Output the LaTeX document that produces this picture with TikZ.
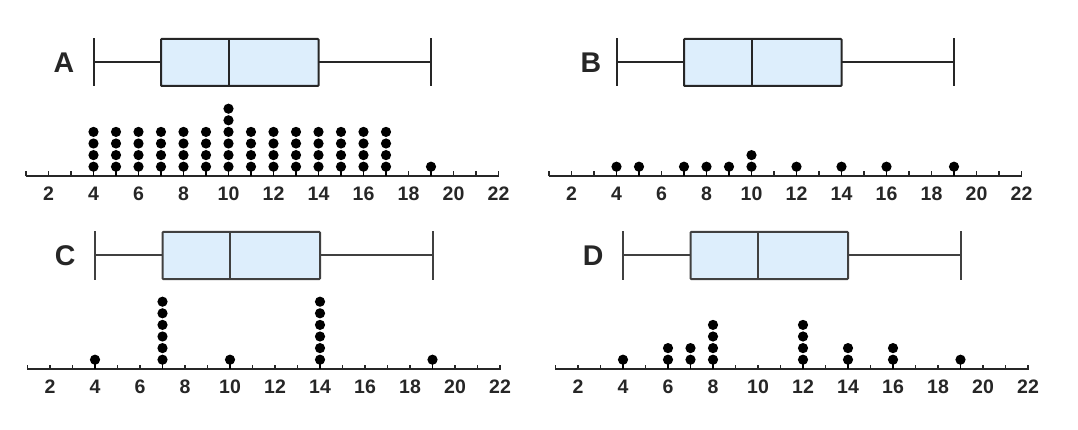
\documentclass[tikz,border=0pt]{standalone}
\usepackage{fontspec}
\setmainfont{Liberation Sans}
\definecolor{ink}{HTML}{262626}
\definecolor{inkb}{HTML}{404040}
\definecolor{boxfill}{HTML}{DDEEFC}
\tikzset{
  axisline/.style={line width=2pt, draw=ink},
  tickline/.style={line width=1.7pt, draw=ink},
  boxline/.style={line width=2pt},
  num/.style={anchor=base, inner sep=0pt, text=ink, font=\bfseries\fontsize{19.5}{19.5}\selectfont},
  letter/.style={anchor=base, inner sep=0pt, text=ink, font=\bfseries\fontsize{28.5}{28.5}\selectfont},
  dotstem/.style={line width=1.7pt, draw=black},
}
% #1 v0 (px), #2 axis y (px), #3 label, #4 label x (value units), #5 dot list value/count, #6 box line colour
\newcommand\mypanel[6]{%
  \begin{scope}[xshift=#1pt, yshift=-#2pt, x=22.5pt, y=-1pt]
    % box plot
    \draw[boxline, draw=#6] (4,-137.5) -- (4,-89.5);
    \draw[boxline, draw=#6] (4,-113.5) -- (7,-113.5);
    \draw[boxline, draw=#6, fill=boxfill, rounded corners=0.8pt] (7,-137) rectangle (14,-90);
    \draw[boxline, draw=#6] (10,-137) -- (10,-90);
    \draw[boxline, draw=#6] (14,-113.5) -- (19,-113.5);
    \draw[boxline, draw=#6] (19,-137.5) -- (19,-89.5);
    \node[letter] (lab#3) at (#4,-103.5) {#3};
    % axis
    \draw[axisline] (1,0) -- (22,0);
    \foreach \i in {1,...,22} \draw[tickline] (\i,0.5) -- (\i,-4.5);
    \foreach \i in {2,4,...,22} \node[num] (n#3\i) at (\i,24.5) {\i};
    % dots
    \foreach \v/\n in {#5} {
      \draw[dotstem] (\v,0) -- (\v,-9);
      \foreach \k in {1,...,\n} \fill[black] (\v,{-9.3-(\k-1)*11.6}) circle (5.1pt);
    }
  \end{scope}
}
\begin{document}
\begin{tikzpicture}[x=1pt, y=-1pt]
  \fill[white] (0,0) rectangle (1078,430);
  \useasboundingbox (0,0) rectangle (1078,430);
  \mypanel{3.5}{176}{A}{2.68}{4/4,5/4,6/4,7/4,8/4,9/4,10/6,11/4,12/4,13/4,14/4,15/4,16/4,17/4,19/1}{ink}
  \mypanel{526.5}{176}{B}{2.86}{4/1,5/1,7/1,8/1,9/1,10/2,12/1,14/1,16/1,19/1}{ink}
  \mypanel{5}{369}{C}{2.67}{4/1,7/6,10/1,14/6,19/1}{inkb}
  \mypanel{533}{369}{D}{2.67}{4/1,6/2,7/2,8/4,12/4,14/2,16/2,19/1}{inkb}
\end{tikzpicture}
\end{document}
